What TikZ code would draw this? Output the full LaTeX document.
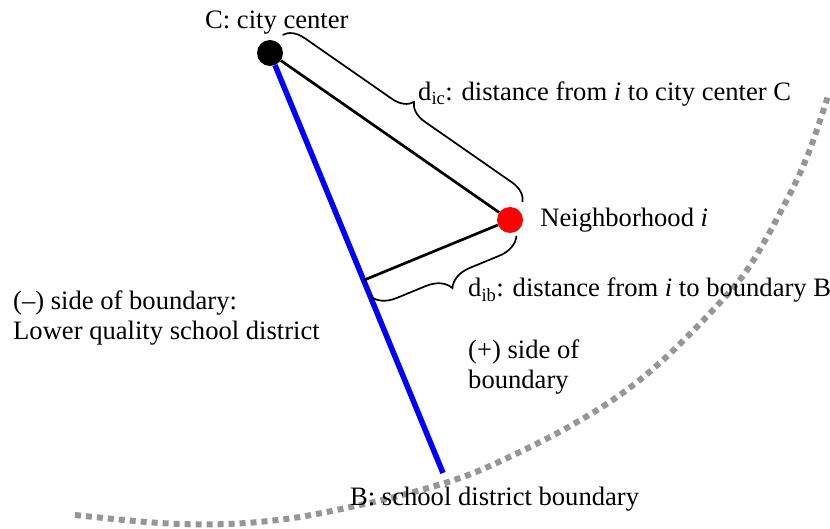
\documentclass[tikz,border=0pt]{standalone}
\usepackage{fontspec}
\setmainfont{Liberation Serif}
\usetikzlibrary{positioning,calc,decorations.pathreplacing}
\definecolor{bndgray}{RGB}{150,150,150}

\begin{document}
\begin{tikzpicture}[x=1pt,y=-1pt,font=\fontsize{26.6}{30}\selectfont,
    spot/.style={circle,inner sep=0pt,minimum size=26pt},
    lbl/.style={anchor=base west,inner sep=0pt,align=left},
    link/.style={line width=2.7pt},
    bracket/.style={decorate,line width=1.7pt}]
  \useasboundingbox (0,0) rectangle (830,529);
  \draw[bndgray,line width=6pt,dash pattern=on 6pt off 5pt] plot[smooth,tension=0.6] coordinates
    {(75,515) (160,523) (227,524) (293,518) (360,505) (410,493) (460,478) (503,460)
     (563,430) (617,397) (663,360) (713,310) (747,270) (780,213) (807,157) (828,96)};
  \node[spot,fill=black] (c) at (270,53) {};
  \node[spot,fill=red] (i) at (510,220) {};
  \coordinate (b) at (443,473);
  \coordinate (f) at ($(c)!(i)!(b)$);
  \draw[blue,line width=5.5pt] (c) -- (b);
  \draw[link] (c) -- (i);
  \draw[link] (i) -- (f);
  \draw[bracket,decoration={brace,amplitude=20pt,raise=22pt}] (c.center) -- (i.center);
  \draw[bracket,decoration={brace,amplitude=24pt,raise=17pt}] (i.center) -- (f);
  \node[lbl] (cl) at (205,29) {C: city center};
  \node[lbl] (dic) at (418,101) {d\textsubscript{ic}: distance from \textit{i} to city center C};
  \node[anchor=west,inner sep=0pt,right=17pt of i] (il) {Neighborhood \textit{i}};
  \node[lbl] (dib) at (468,297) {d\textsubscript{ib}: distance from \textit{i} to boundary B};
  \node[lbl] (neg) at (13,340) {(–) side of boundary:\\Lower quality school district};
  \node[lbl] (pos) at (468,388) {(+) side of\\boundary};
  \node[lbl] (bl) at (350,505) {B: school district boundary};
\end{tikzpicture}
\end{document}
